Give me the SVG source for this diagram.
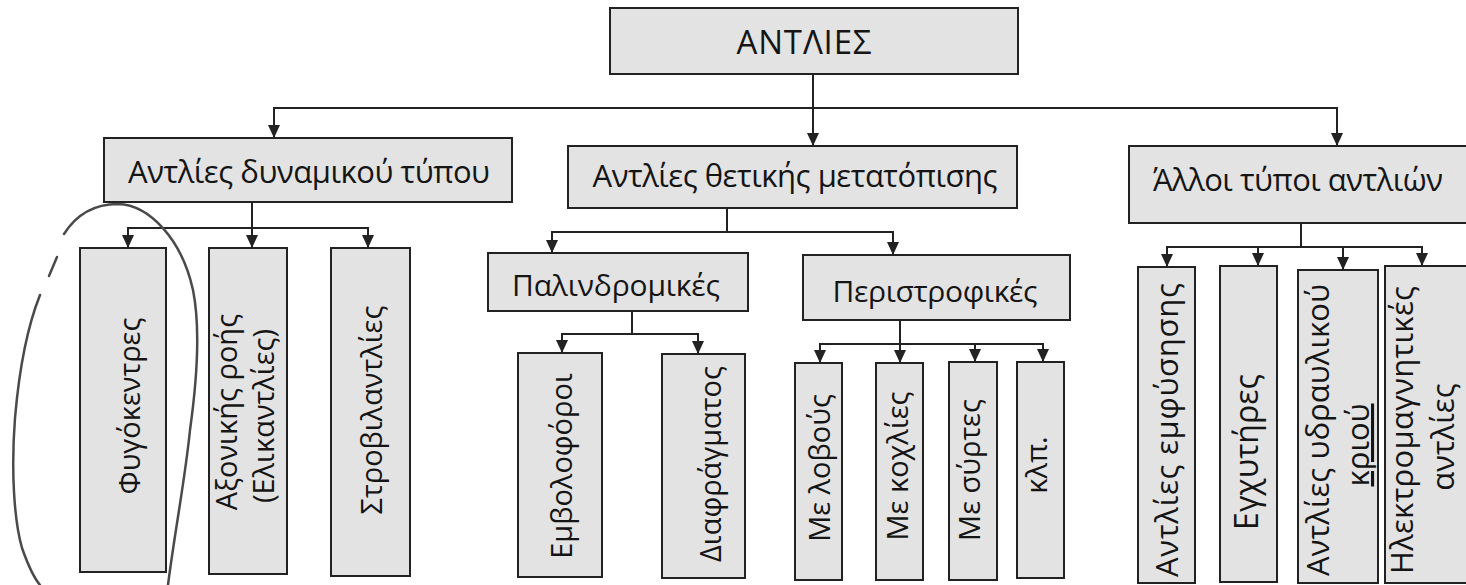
<svg xmlns="http://www.w3.org/2000/svg" width="1466" height="585" viewBox="0 0 1466 585">
<defs>
<style>
.box{fill:#e3e3e3;stroke:#222;stroke-width:2}
.t{font-family:"Open Sans","Noto Sans","DejaVu Sans",sans-serif;fill:#151515;text-anchor:middle}
.h{font-size:31px}
.v{font-size:29px}
.w{font-size:31px}
.c{fill:none;stroke:#222;stroke-width:2}
.pen{fill:none;stroke:#4a4a4a;stroke-width:2.5;stroke-linecap:round}
</style>
<marker id="ar" markerUnits="userSpaceOnUse" markerWidth="14" markerHeight="12" viewBox="0 0 14 12" refX="13" refY="6" orient="auto">
<path d="M0,0 L13,6 L0,12 Z" fill="#222"/>
</marker>
</defs>
<rect width="1466" height="585" fill="#fff"/>

<g id="connectors">
<path class="c" d="M813,74 V146" marker-end="url(#ar)"/>
<path class="c" d="M813,108 H274 V138" marker-end="url(#ar)"/>
<path class="c" d="M813,108 H1337 V146" marker-end="url(#ar)"/>
<path class="c" d="M252,202 V228 H128 V248" marker-end="url(#ar)"/>
<path class="c" d="M252,228 V248" marker-end="url(#ar)"/>
<path class="c" d="M252,228 H368 V248" marker-end="url(#ar)"/>
<path class="c" d="M727,208 V232 H552 V253" marker-end="url(#ar)"/>
<path class="c" d="M727,232 H893 V255" marker-end="url(#ar)"/>
<path class="c" d="M632,311 V334 H562 V353" marker-end="url(#ar)"/>
<path class="c" d="M632,334 H698 V354" marker-end="url(#ar)"/>
<path class="c" d="M900,320 V344 H820 V363" marker-end="url(#ar)"/>
<path class="c" d="M900,344 V363" marker-end="url(#ar)"/>
<path class="c" d="M900,344 H975 V362" marker-end="url(#ar)"/>
<path class="c" d="M900,344 H1043 V362" marker-end="url(#ar)"/>
<path class="c" d="M1301,223 V247 H1167 V267" marker-end="url(#ar)"/>
<path class="c" d="M1301,247 H1258 V266" marker-end="url(#ar)"/>
<path class="c" d="M1301,247 H1343 V270" marker-end="url(#ar)"/>
<path class="c" d="M1301,247 H1422 V266" marker-end="url(#ar)"/>
</g>

<g id="root"><rect class="box" x="610" y="8" width="408" height="66"/><text class="t" x="804" y="54" font-size="33" textLength="135">ΑΝΤΛΙΕΣ</text></g>
<g id="dynamic"><rect class="box" x="104" y="138" width="408" height="64"/><text class="t h" x="309" y="183" textLength="362">Αντλίες δυναμικού τύπου</text></g>
<g id="positive"><rect class="box" x="568" y="146" width="449" height="62"/><text class="t h" x="795" y="187" textLength="405">Αντλίες θετικής μετατόπισης</text></g>
<g id="other"><rect class="box" x="1129" y="146" width="345" height="77"/><text class="t h" x="1298" y="191" textLength="290">Άλλοι τύποι αντλιών</text></g>

<g id="fugokentres"><rect class="box" x="80" y="248" width="86" height="324"/><text class="t v" transform="translate(140,406) rotate(-90)">Φυγόκεντρες</text></g>
<g id="axonikis"><rect class="box" x="209" y="248" width="78" height="326"/><text class="t v" transform="translate(237,412) rotate(-90)">Αξονικής ροής</text><text class="t v" transform="translate(274,416) rotate(-90)">(Ελικαντλίες)</text></g>
<g id="strovilantlies"><rect class="box" x="331" y="248" width="79" height="328"/><text class="t v" transform="translate(382,410) rotate(-90)">Στροβιλαντλίες</text></g>

<g id="palindromikes"><rect class="box" x="488" y="253" width="260" height="58"/><text class="t" font-size="30" x="616" y="296" textLength="208">Παλινδρομικές</text></g>
<g id="peristrofikes"><rect class="box" x="803" y="255" width="267" height="65"/><text class="t" font-size="30" x="935" y="302" textLength="205">Περιστροφικές</text></g>

<g id="emvoloforoi"><rect class="box" x="518" y="353" width="84" height="224"/><text class="t v" transform="translate(572,466) rotate(-90)">Εμβολοφόροι</text></g>
<g id="diafragmatos"><rect class="box" x="662" y="354" width="83" height="224"/><text class="t v" transform="translate(721,464) rotate(-90)">Διαφράγματος</text></g>

<g id="me-lovous"><rect class="box" x="795" y="363" width="47" height="217"/><text class="t v" transform="translate(830,468) rotate(-90)">Με λοβούς</text></g>
<g id="me-koxlies"><rect class="box" x="876" y="363" width="47" height="217"/><text class="t v" transform="translate(908,466) rotate(-90)">Με κοχλίες</text></g>
<g id="me-syrtes"><rect class="box" x="949" y="362" width="48" height="218"/><text class="t v" transform="translate(980,470) rotate(-90)">Με σύρτες</text></g>
<g id="klp"><rect class="box" x="1017" y="362" width="47" height="216"/><text class="t v" transform="translate(1047,465) rotate(-90)">κλπ.</text></g>

<g id="emfysisis"><rect class="box" x="1138" y="267" width="57" height="316"/><text class="t w" transform="translate(1178,430) rotate(-90)" textLength="294">Αντλίες εμφύσησης</text></g>
<g id="egxytires"><rect class="box" x="1220" y="266" width="57" height="316"/><text class="t" font-size="32" transform="translate(1258,452) rotate(-90)">Εγχυτήρες</text></g>
<g id="ydraulikou"><rect class="box" x="1298" y="270" width="80" height="313"/><text class="t w" transform="translate(1329,430) rotate(-90)" textLength="292">Αντλίες υδραυλικού</text><text class="t w" text-decoration="underline" transform="translate(1369,445) rotate(-90)">κριού</text></g>
<g id="ilektromagnitikes"><rect class="box" x="1385" y="266" width="90" height="317"/><text class="t w" transform="translate(1413,430) rotate(-90)" textLength="288">Ηλεκτρομαγνητικές</text><text class="t w" transform="translate(1454,437) rotate(-90)">αντλίες</text></g>

<g id="pen-loop">
<path class="pen" d="M64,234 C78,212 98,204 118,204 C150,205 182,240 193,290 C201,330 197,380 190,430 C185,480 175,530 168,585"/>
<path class="pen" d="M40,295 C30,320 20,360 15,418 C11,470 14,520 22,548 C28,565 34,578 40,585"/>
<path class="pen" d="M57,257 L49,276"/>
</g>
</svg>
